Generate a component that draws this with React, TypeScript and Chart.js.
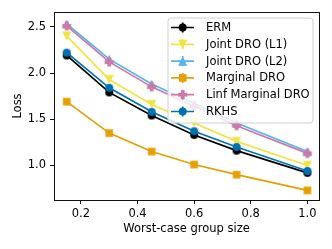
import React, { useEffect, useRef } from "react";
import { Chart, registerables } from "chart.js";

Chart.register(...registerables);

const groupSizes = [0.15, 0.3, 0.45, 0.6, 0.75, 1.0];
const ermLoss = [2.19, 1.79, 1.54, 1.33, 1.16, 0.92];
const jointL1Loss = [2.40, 1.93, 1.66, 1.46, 1.26, 1.00];
const jointL2Loss = [2.53, 2.15, 1.88, 1.67, 1.46, 1.15];
const marginalLoss = [1.69, 1.35, 1.15, 1.01, 0.90, 0.73];
const linfMarginalLoss = [2.51, 2.12, 1.85, 1.64, 1.43, 1.13];
const rkhsLoss = [2.22, 1.84, 1.58, 1.37, 1.20, 0.94];

const seriesNames = ["ERM", "Joint DRO (L1)", "Joint DRO (L2)", "Marginal DRO", "Linf Marginal DRO", "RKHS"];
const seriesColors = ["#000000", "#F0E442", "#56B4E9", "#E69F00", "#CC79A7", "#0072B2"];
const seriesMarkers = ["circle", "triDown", "triUp", "square", "plus", "circle"];
const seriesValues = [ermLoss, jointL1Loss, jointL2Loss, marginalLoss, linfMarginalLoss, rkhsLoss];

const xTicks = [0.2, 0.4, 0.6, 0.8, 1.0];
const yTicks = [1.0, 1.5, 2.0, 2.5];

const FONT = "DejaVu Sans";
const FS = 11.5;

function drawMarker(ctx: CanvasRenderingContext2D, shape: string, color: string, cx: number, cy: number) {
  ctx.save();
  ctx.fillStyle = color;
  ctx.beginPath();
  if (shape === "circle") {
    ctx.arc(cx, cy, 4, 0, Math.PI * 2);
  } else if (shape === "triDown") {
    const h = 4.6;
    ctx.moveTo(cx - h, cy - h);
    ctx.lineTo(cx + h, cy - h);
    ctx.lineTo(cx, cy + h);
    ctx.closePath();
  } else if (shape === "triUp") {
    const h = 4.6;
    ctx.moveTo(cx - h, cy + h);
    ctx.lineTo(cx + h, cy + h);
    ctx.lineTo(cx, cy - h);
    ctx.closePath();
  } else if (shape === "square") {
    const h = 3.8;
    ctx.rect(cx - h, cy - h, 2 * h, 2 * h);
  } else if (shape === "plus") {
    const h = 4.4;
    const w = 1.9;
    ctx.moveTo(cx - w, cy - h);
    ctx.lineTo(cx + w, cy - h);
    ctx.lineTo(cx + w, cy - w);
    ctx.lineTo(cx + h, cy - w);
    ctx.lineTo(cx + h, cy + w);
    ctx.lineTo(cx + w, cy + w);
    ctx.lineTo(cx + w, cy + h);
    ctx.lineTo(cx - w, cy + h);
    ctx.lineTo(cx - w, cy + w);
    ctx.lineTo(cx - h, cy + w);
    ctx.lineTo(cx - h, cy - w);
    ctx.lineTo(cx - w, cy - w);
    ctx.closePath();
  }
  ctx.fill();
  ctx.restore();
}

function markerCanvas(shape: string, color: string): HTMLCanvasElement {
  const c = document.createElement("canvas");
  c.width = 12;
  c.height = 12;
  const ctx = c.getContext("2d")!;
  drawMarker(ctx, shape, color, 6, 6);
  return c;
}

const framePlugin = {
  id: "frameAndLegend",
  afterDraw(chart: any) {
    const { ctx, chartArea } = chart;
    const { left, right, top, bottom } = chartArea;
    ctx.save();
    ctx.strokeStyle = "#111";
    ctx.lineWidth = 1;
    ctx.strokeRect(Math.round(left) + 0.5, Math.round(top) + 0.5, Math.round(right - left), Math.round(bottom - top));

    // legend
    const bx = 168, by = 18, bw = 145, bh = 105, r = 3;
    ctx.beginPath();
    ctx.moveTo(bx + r, by);
    ctx.lineTo(bx + bw - r, by);
    ctx.quadraticCurveTo(bx + bw, by, bx + bw, by + r);
    ctx.lineTo(bx + bw, by + bh - r);
    ctx.quadraticCurveTo(bx + bw, by + bh, bx + bw - r, by + bh);
    ctx.lineTo(bx + r, by + bh);
    ctx.quadraticCurveTo(bx, by + bh, bx, by + bh - r);
    ctx.lineTo(bx, by + r);
    ctx.quadraticCurveTo(bx, by, bx + r, by);
    ctx.closePath();
    ctx.fillStyle = "rgba(255,255,255,0.8)";
    ctx.fill();
    ctx.strokeStyle = "#d0d0d0";
    ctx.lineWidth = 1;
    ctx.stroke();

    ctx.font = `${FS}px "${FONT}"`;
    ctx.textBaseline = "middle";
    ctx.textAlign = "left";
    for (let i = 0; i < seriesNames.length; i++) {
      const y = 27.5 + i * 16.8;
      const col = seriesColors[i];
      ctx.strokeStyle = col;
      ctx.lineWidth = 1.7;
      ctx.beginPath();
      ctx.moveTo(171, y);
      ctx.lineTo(194, y);
      ctx.moveTo(182.7, y - 5);
      ctx.lineTo(182.7, y + 5);
      ctx.stroke();
      drawMarker(ctx, seriesMarkers[i], col, 182.7, y);
      ctx.fillStyle = "#000";
      ctx.fillText(seriesNames[i], 206, y + 0.5);
    }
    ctx.restore();
  },
};

export default function App() {
  const ref = useRef<HTMLCanvasElement | null>(null);
  useEffect(() => {
    document.body.style.margin = "0";
    Chart.defaults.font.family = FONT;
    Chart.defaults.font.size = FS;
    Chart.defaults.color = "#000";
    const datasets = seriesNames.map((name, i) => ({
      label: name,
      data: groupSizes.map((x, j) => ({ x, y: seriesValues[i][j] })),
      borderColor: seriesColors[i],
      backgroundColor: seriesColors[i],
      borderWidth: 1.7,
      pointStyle: markerCanvas(seriesMarkers[i], seriesColors[i]),
      pointRadius: 4,
      tension: 0,
      fill: false,
      order: seriesNames.length - i,
    }));
    const chart = new Chart(ref.current!, {
      type: "line",
      data: { datasets },
      plugins: [framePlugin],
      options: {
        animation: false,
        responsive: false,
        layout: { padding: { left: 0, right: 13, top: 12, bottom: 0 } },
        plugins: { legend: { display: false }, tooltip: { enabled: false } },
        scales: {
          x: {
            type: "linear",
            min: 0.105,
            max: 1.041,
            afterBuildTicks: (s: any) => { s.ticks = xTicks.map((v) => ({ value: v })); },
            afterFit: (s: any) => { s.height = 49; },
            ticks: { padding: 3, callback: (v: any) => Number(v).toFixed(1), font: { size: FS }, color: "#000" },
            grid: { drawOnChartArea: false, drawTicks: true, tickLength: 4, color: "#111" },
            border: { display: false },
            title: { display: true, text: "Worst-case group size", font: { size: FS }, color: "#000", padding: { top: 0, bottom: 13 } },
          },
          y: {
            type: "linear",
            min: 0.626,
            max: 2.66,
            afterBuildTicks: (s: any) => { s.ticks = yTicks.map((v) => ({ value: v })); },
            afterFit: (s: any) => { s.width = 54; },
            ticks: { padding: 4, callback: (v: any) => Number(v).toFixed(1), font: { size: FS }, color: "#000" },
            grid: { drawOnChartArea: false, drawTicks: true, tickLength: 4, color: "#111" },
            border: { display: false },
            title: { display: true, text: "Loss", font: { size: FS }, color: "#000", padding: { top: 11, bottom: 0 } },
          },
        },
      },
    });
    return () => chart.destroy();
  }, []);
  return (
    <div style={{ width: 332, height: 249 }}>
      <canvas ref={ref} width={332} height={249} style={{ display: "block" }} />
    </div>
  );
}
